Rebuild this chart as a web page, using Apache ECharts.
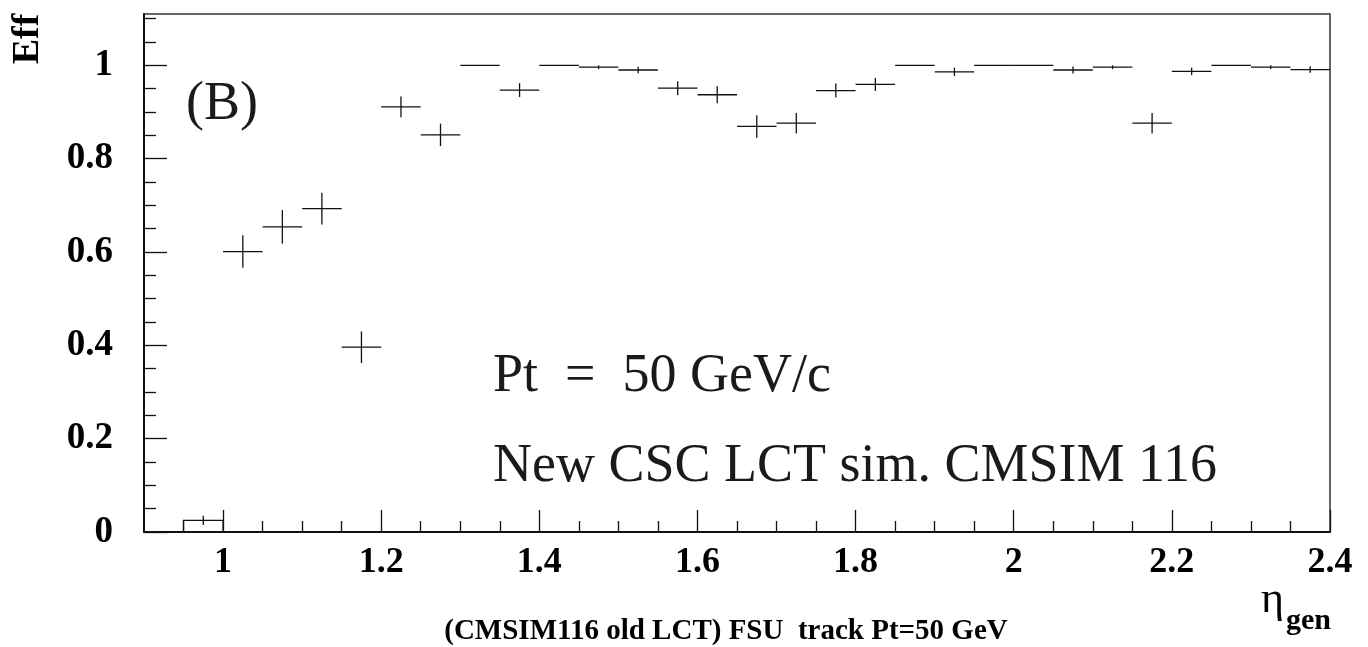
<!DOCTYPE html>
<html>
<head>
<meta charset="utf-8">
<title>Eff vs eta_gen</title>
<script src="https://cdn.jsdelivr.net/npm/echarts@6/dist/echarts.min.js"></script>
<style>
  html, body { margin: 0; padding: 0; background: #fff; }
  #chart { width: 1368px; height: 647px; }
</style>
</head>
<body>
<div id="chart"></div>
<script>
// Bin centres in eta_gen (bin width 0.05)
const binCenters = [0.975, 1.025, 1.075, 1.125, 1.175, 1.225, 1.275, 1.325, 1.375, 1.425,
                    1.475, 1.525, 1.575, 1.625, 1.675, 1.725, 1.775, 1.825, 1.875, 1.925,
                    1.975, 2.025, 2.075, 2.125, 2.175, 2.225, 2.275, 2.325, 2.375];
// Efficiency per bin
const effValues = [0.025, 0.601, 0.654, 0.693, 0.396, 0.911, 0.851, 1.000, 0.947, 1.000,
                   0.996, 0.990, 0.951, 0.937, 0.869, 0.876, 0.946, 0.959, 1.000, 0.986,
                   1.000, 1.000, 0.990, 0.996, 0.876, 0.987, 1.000, 0.996, 0.991];
// Statistical error per bin
const effErrors = [0.010, 0.035, 0.036, 0.034, 0.034, 0.022, 0.024, 0.000, 0.015, 0.000,
                   0.004, 0.007, 0.015, 0.018, 0.024, 0.022, 0.015, 0.014, 0.000, 0.009,
                   0.000, 0.000, 0.0075, 0.004, 0.022, 0.008, 0.000, 0.004, 0.007];
// Bins drawn as an outlined histogram box
const boxedBins = [0];
const binWidth = 0.05;

// Axis tick values
const xMajorTicks = [1.0, 1.2, 1.4, 1.6, 1.8, 2.0, 2.2, 2.4];
const xMinorTicks = [0.95, 1.05, 1.1, 1.15, 1.25, 1.3, 1.35, 1.45, 1.5, 1.55, 1.65, 1.7, 1.75,
                     1.85, 1.9, 1.95, 2.05, 2.1, 2.15, 2.25, 2.3, 2.35];
const yMajorTicks = [0, 0.2, 0.4, 0.6, 0.8, 1.0];
const yMinorTicks = [0.05, 0.1, 0.15, 0.25, 0.3, 0.35, 0.45, 0.5, 0.55, 0.65, 0.7, 0.75,
                     0.85, 0.9, 0.95, 1.05, 1.1];

const INK = '#111';
const SERIF = '"Liberation Serif", "Times New Roman", serif';

const points = binCenters.map((c, i) => [c, effValues[i], effErrors[i], boxedBins.includes(i) ? 1 : 0]);

function fmt(v) { return String(+v.toFixed(2)); }

function renderBin(params, api) {
  const x = api.value(0), y = api.value(1), e = api.value(2), boxed = api.value(3);
  const left = api.coord([x - binWidth / 2, y]);
  const right = api.coord([x + binWidth / 2, y]);
  const top = api.coord([x, y + e]);
  const bot = api.coord([x, y - e]);
  const style = { stroke: INK, lineWidth: 1.3, fill: null };
  const children = [];
  if (boxed) {
    const base = api.coord([x - binWidth / 2, 0]);
    children.push({ type: 'rect', shape: { x: left[0], y: left[1], width: right[0] - left[0], height: base[1] - left[1] }, style });
  } else {
    children.push({ type: 'line', shape: { x1: left[0], y1: left[1], x2: right[0], y2: right[1] }, style });
  }
  if (e > 0) {
    children.push({ type: 'line', shape: { x1: top[0], y1: top[1], x2: bot[0], y2: bot[1] }, style });
  }
  return { type: 'group', children };
}

const chart = echarts.init(document.getElementById('chart'), null, { renderer: 'canvas' });

const xBase = { type: 'value', min: 0.9, max: 2.4, position: 'bottom', splitLine: { show: false } };
const yBase = { type: 'value', min: 0, max: 1.11, position: 'left', splitLine: { show: false } };

chart.setOption({
  animation: false,
  backgroundColor: '#fff',
  grid: { left: 144, right: 38, top: 14, bottom: 115, show: true, borderColor: '#333', borderWidth: 1.5, backgroundColor: 'transparent' },
  xAxis: [
    Object.assign({}, xBase, {
      axisLine: { show: true, onZero: false, lineStyle: { color: INK, width: 2 } },
      axisTick: { show: true, inside: true, length: 22, customValues: xMajorTicks, lineStyle: { color: INK, width: 1.3 } },
      axisLabel: { show: true, customValues: xMajorTicks, margin: 13, formatter: fmt,
                   fontFamily: SERIF, fontWeight: 'bold', fontSize: 36, color: '#000' }
    }),
    Object.assign({}, xBase, {
      axisLine: { show: false },
      axisTick: { show: true, inside: true, length: 11, customValues: xMinorTicks, lineStyle: { color: INK, width: 1.3 } },
      axisLabel: { show: false }
    })
  ],
  yAxis: [
    Object.assign({}, yBase, {
      axisLine: { show: true, onZero: false, lineStyle: { color: INK, width: 2 } },
      axisTick: { show: true, inside: true, length: 23, customValues: yMajorTicks, lineStyle: { color: INK, width: 1.3 } },
      axisLabel: { show: true, customValues: yMajorTicks, margin: 31, formatter: fmt,
                   fontFamily: SERIF, fontWeight: 'bold', fontSize: 37, color: '#000' }
    }),
    Object.assign({}, yBase, {
      axisLine: { show: false },
      axisTick: { show: true, inside: true, length: 12, customValues: yMinorTicks, lineStyle: { color: INK, width: 1.3 } },
      axisLabel: { show: false }
    })
  ],
  series: [{
    type: 'custom',
    xAxisIndex: 0,
    yAxisIndex: 0,
    renderItem: renderBin,
    data: points,
    clip: false
  }],
  graphic: [
    { type: 'text', left: 186, top: 78, style: { text: '(B)', font: '54px ' + SERIF, fill: '#1a1a1a' } },
    { type: 'text', left: 493, top: 350, style: { text: 'Pt  =  50 GeV/c', font: '54px ' + SERIF, fill: '#1a1a1a' } },
    { type: 'text', left: 493, top: 440, style: { text: 'New CSC LCT sim. CMSIM 116', font: '54px ' + SERIF, fill: '#1a1a1a' } },
    { type: 'text', x: 28, y: 39, rotation: Math.PI / 2,
      style: { text: 'Eff', font: 'bold 38px ' + SERIF, fill: '#000', align: 'center', verticalAlign: 'middle' } },
    { type: 'text', x: 726, y: 632,
      style: { text: '(CMSIM116 old LCT) FSU  track Pt=50 GeV', font: 'bold 29px ' + SERIF, fill: '#000', align: 'center', verticalAlign: 'middle' } },
    { type: 'text', x: 1261, y: 600,
      style: { text: 'η', font: '44px ' + SERIF, fill: '#000', align: 'left', verticalAlign: 'middle' } },
    { type: 'text', x: 1286, y: 621,
      style: { text: 'gen', font: 'bold 30px ' + SERIF, fill: '#000', align: 'left', verticalAlign: 'middle' } }
  ]
});
</script>
</body>
</html>
